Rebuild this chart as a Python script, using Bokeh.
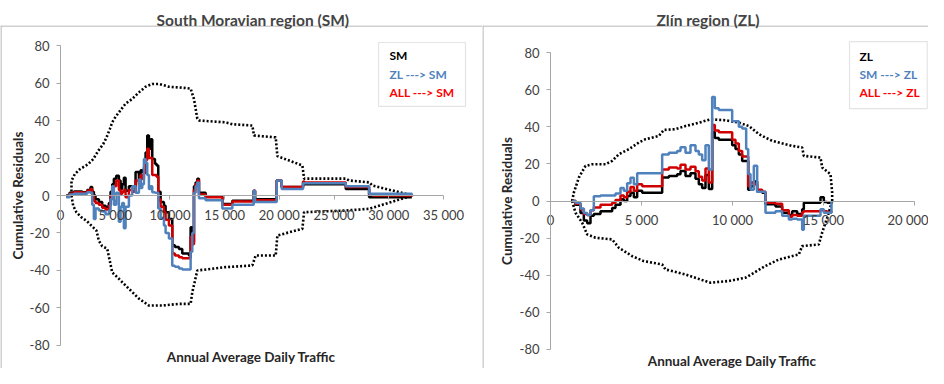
from bokeh.plotting import figure
from bokeh.models import Range1d, FixedTicker, Label, Span, ColumnDataSource, BoxAnnotation
from bokeh.layouts import row
from bokeh.core.properties import value
from bokeh.embed import file_html
from bokeh.resources import INLINE
import math

# ---------------- data: South Moravian region (SM) ----------------
sm_x = [518, 823, 1220, 1982, 2439, 2744, 2897, 3049, 3201, 3506,
        3811, 4116, 4421, 4574, 4726, 4878, 5092, 5336, 5488, 5641,
        5793, 5946, 6250, 6555, 6860, 7165, 7318, 7470, 7623, 7775,
        7927, 8080, 8232, 8385, 8629, 8781, 8934, 9147, 9452, 9604,
        9909, 10214, 10458, 10824, 11129, 11739, 11891, 12044, 12196, 12349,
        12501, 12653, 13263, 14788, 15702, 17654, 17776, 19758, 20215, 22166,
        22288, 26069, 28203, 28508, 32106]
sm_own = [0, 1.5, 2.2, 1.8, 3, 4.5, 2, 0, -2, -3.5,
          -5.5, -6, -4, 2, 6, 9, 10.5, 8, 3.5, 6,
          9.5, 2.5, 5, 2, 12.5, 9, 13.5, 12.5, 15, 23,
          32, 25, 30, 19.5, 17, 16, 2, -3.5, -5.5, -9,
          -12.5, -26.5, -27.5, -28.5, -31, -32, -17, -25, 5, 7,
          9, 1.5, -0.5, -4.5, -2.8, 2.5, -2, 8, 4.5, 7,
          6, 3.5, -1, -1, -1]
sm_from_zl = [-1, 0.5, 1, 1, 1.8, 1.5, -5, -12.5, -7, -8,
              -8.5, -10, -8, -2, 5, -5, 1.5, -14, -6, -4,
              -17.5, -6, 0, 5, 1.5, 8.5, 4, 6, 19.5, 17.5,
              11, 3.5, 5, 1.8, 1.5, 1.5, -7, -12, -16, -20,
              -23, -37.5, -38, -39, -39.5, -39.5, -30, -20, 1.5, 5,
              7, -1.5, -2.5, -7, -5, 2.5, -3.5, 8, 3.5, 6.5,
              6.5, 5, 1, 1, 0]
sm_from_all = [-0.5, 1, 1.8, 1.5, 2.5, 3.5, 0, -3, -4, -5,
               -6.5, -7.5, -5.5, 0, 5, 5, 8, 3, 1, 2,
               3, -1, 3, 2, 8, 6, 11, 9, 12, 19,
               25, 20, 20, 11, 11, 10, -2, -6, -9, -13,
               -16, -31, -32, -33, -33.5, -33.5, -22, -26, 3, 6,
               8, 0.5, -1, -5, -3.2, 2.5, -2.5, 8, 4.5, 7.5,
               7, 4.5, 0.5, 0, -0.5]
sm_up_x = [1000, 1005, 1307, 1764, 2531, 2988, 3445, 3902, 4203, 4505,
           4726, 5031, 5946, 6555, 7165, 7775, 8385, 8995, 9909, 11129,
           11891, 12196, 12501, 12653, 15093, 15702, 17532, 17684, 19666, 19819,
           22105, 22258, 26069, 26374, 28203, 28508, 32167]
sm_up_y = [0, 7.8, 11.4, 14, 16.7, 19.4, 23.8, 27.4, 30.9, 35.4,
           39, 42, 49, 51.5, 55, 58, 59.5, 59.5, 58, 57.5,
           57, 51.5, 41, 40, 39, 38, 37.3, 32, 31, 21,
           16, 9, 9, 8, 7, 5.3, 0]
sm_lo_x = [1000, 1160, 1462, 1919, 2376, 2988, 3290, 3500, 3800, 4270,
           4726, 5336, 5946, 7165, 8080, 9299, 10824, 11891, 12044, 12501,
           15093, 17532, 17837, 19666, 19819, 22105, 22258, 26069, 28203, 32167]
sm_lo_y = [0, -5.5, -9, -11.7, -13.5, -17, -18.8, -24, -27, -28.4,
           -41, -44.4, -48, -55, -58.7, -58.7, -57.8, -57.8, -51.6, -40,
           -38.2, -37.3, -32, -32, -21.3, -17.8, -8.9, -8, -7.1, 0]

# ---------------- data: Zlin region (ZL) ----------------
zl_x = [1190, 1374, 1648, 1832, 2015, 2198, 2381, 2747, 3388, 3571,
        3846, 4029, 4212, 4396, 4579, 4762, 5037, 6136, 6502, 6960,
        7143, 7418, 7692, 7967, 8150, 8333, 8516, 8700, 8883, 9029,
        9249, 9982, 10165, 10348, 10531, 10751, 10861, 10989, 11172, 11355,
        11630, 11813, 12363, 12729, 13095, 13278, 13553, 13828, 13919, 14835,
        15018, 15201, 15440]
zl_own = [0, -2, -6.5, -10.5, -12, -8, -7, -5.5, -3.8, -2,
          0.9, 0, 2.7, 4.5, 2, 5.5, 4.5, 12.6, 13.5, 14.4,
          16.2, 13.5, 15, 12, 9, 7, 14, 6.5, 37, 34,
          33, 30, 28, 25, 21.5, 21.5, 6, 8, 10.5, 5,
          4.5, -1.8, -3, -6.3, -7.5, -5.5, -7, -4.5, -1, 2,
          -0.5, -1, 0]
zl_from_all = [0, -1.5, -4.5, -7, -7.5, -5, -3.5, -2, -0.9, 0.5,
               3, 2, 5, 7.5, 5.5, 9, 8, 17, 18, 17.5,
               19.5, 17, 18.5, 16, 13, 11, 17.5, 10, 41, 38,
               37, 33, 31, 27, 24, 24, 8, 10, 9, 6,
               5, -1, -1.5, -5, -8.5, -7.5, -8, -6, -5.5, -5,
               -5.5, -6, -5.5]
zl_from_sm = [0, -1, -4, -6.5, -7.5, -5, 2.5, 3, 3, 4,
              7, 5.5, 9.5, 12.5, 9, 15, 15, 25, 26, 27,
              29, 26, 30, 27, 25, 22, 30, 17, 56, 50,
              49, 43, 43, 40, 39, 28, 14.5, 6, 19, 5,
              5, -6.3, -5.5, -8, -10, -9.5, -10, -15.5, -8, -4.5,
              -6.3, -6.3, 0]
zl_up_x = [1190, 1282, 1557, 1923, 2289, 3022, 3388, 3755, 4304, 4853,
           5220, 5952, 6227, 6868, 7418, 8150, 8791, 9615, 10348, 10897,
           11447, 12179, 13278, 13828, 13919, 14835, 14927, 15385, 15476, 15476]
zl_up_y = [0, 4.5, 12.6, 18.9, 19.8, 19.8, 21.6, 25.2, 27.9, 31.5,
           33.3, 35, 38.3, 38.7, 40.4, 42.2, 44, 43.5, 42.2, 40.4,
           36, 32.4, 29.7, 28.8, 24.3, 23.4, 18, 14.4, 4.5, 0]
zl_lo_x = [1190, 1374, 1740, 2015, 2473, 3388, 3755, 4487, 5128, 6136,
           6319, 7418, 8333, 8791, 9799, 10714, 11172, 11813, 12546, 13645,
           13828, 14743, 14927, 15110, 15293, 15385, 15476]
zl_lo_y = [0, -6.3, -11.7, -18, -19.8, -20.7, -25.2, -29.7, -32.4, -34.2,
           -36.9, -39.6, -42.6, -44, -43.1, -41.3, -38.7, -35, -31.5, -28.8,
           -24.3, -23.4, -17, -11.7, -6.3, -3, 0]

# ---------------- ticks & labels ----------------
y_ticks = [-80, -60, -40, -20, 0, 20, 40, 60, 80]
y_tick_labels = ["-80", "-60", "-40", "-20", "0", "20", "40", "60", "80"]
sm_x_ticks = [0, 5000, 10000, 15000, 20000, 25000, 30000, 35000]
sm_x_tick_labels = ["0", "5 000", "10 000", "15 000", "20 000", "25 000", "30 000", "35 000"]
zl_x_ticks = [0, 5000, 10000, 15000, 20000]
zl_x_tick_labels = ["0", "5 000", "10 000", "15 000", "20 000"]

sm_legend = ["SM", "ZL ---> SM", "ALL ---> SM"]
zl_legend = ["ZL", "SM ---> ZL", "ALL ---> ZL"]
legend_colors = ["#000000", "#4f81bd", "#ff0000"]

FONT = "Lato"
AXIS_GRAY = "#a6a6a6"
TEXT_GRAY = "#404040"
BLACK = "#000000"
BLUE = "#4f81bd"
RED = "#d00000"

H = 368


def make_panel(title, width, xr, yr, xmax, x_ticks, x_labels,
               own, other, allv, xs, up_x, up_y, lo_x, lo_y,
               leg_names, leg_box, leg_pos, ylab_pos, xlab_pos, title_offset):
    p = figure(width=width, height=H, x_range=Range1d(*xr), y_range=Range1d(*yr),
               output_backend="svg", toolbar_location=None, title=title,
               min_border_left=0, min_border_right=0, min_border_top=25, min_border_bottom=0)
    p.title.text_font = FONT
    p.title.text_font_size = "15.5px"
    p.title.text_font_style = "bold"
    p.title.align = "left"
    p.title.vertical_align = "top"
    p.title.standoff = -10
    p.title.offset = title_offset
    p.outline_line_color = None
    p.grid.visible = False
    p.background_fill_color = "white"
    p.border_fill_color = "white"

    for ax in p.yaxis:
        ax.fixed_location = 0
        ax.bounds = (-80, 80)
        ax.ticker = FixedTicker(ticks=y_ticks)
        ax.major_label_overrides = {t: l for t, l in zip(y_ticks, y_tick_labels)}
    for ax in p.xaxis:
        ax.fixed_location = 0
        ax.bounds = (0, xmax)
        ax.ticker = FixedTicker(ticks=x_ticks)
        ax.major_label_overrides = {t: l for t, l in zip(x_ticks, x_labels)}
    for ax in p.xaxis + p.yaxis:
        ax.axis_line_color = AXIS_GRAY
        ax.major_tick_line_color = AXIS_GRAY
        ax.minor_tick_line_color = None
        ax.major_tick_in = 0
        ax.major_tick_out = 4
        ax.major_label_standoff = 7
        ax.major_label_text_font = FONT
        ax.major_label_text_font_size = "13px"
        ax.major_label_text_color = TEXT_GRAY
        ax.axis_label = None

    # chart-area borders (top and left)
    p.add_layout(Span(location=yr[1] - 0.3, dimension="width", line_color="#c0c0c0", line_width=1.5))
    p.add_layout(Span(location=xr[0] + (xr[1] - xr[0]) * 0.001, dimension="height",
                      line_color="#c0c0c0", line_width=1.5))

    # legend box (under the text)
    p.add_layout(BoxAnnotation(left=leg_box[0], right=leg_box[1], bottom=leg_box[2], top=leg_box[3],
                               fill_color="white", fill_alpha=1.0, line_color=AXIS_GRAY,
                               line_width=1.2, level="underlay"))

    # envelopes
    p.line(up_x, up_y, line_color=BLACK, line_width=2.6, line_dash="2 2")
    p.line(lo_x, lo_y, line_color=BLACK, line_width=2.6, line_dash="2 2")
    # cumulative residual series
    p.step(xs, own, mode="after", line_color=BLACK, line_width=2.5)
    p.step(xs, allv, mode="after", line_color=RED, line_width=2.5)
    p.step(xs, other, mode="after", line_color=BLUE, line_width=2.5)

    # axis titles
    p.add_layout(Label(x=ylab_pos[0], y=ylab_pos[1], text="Cumulative Residuals", angle=math.pi / 2,
                       text_align="center", text_baseline="middle", text_font=FONT,
                       text_font_size="13.5px", text_font_style="bold", text_color="#262626"))
    p.add_layout(Label(x=xlab_pos[0], y=xlab_pos[1], text="Annual Average Daily Traffic",
                       text_align="center", text_baseline="middle", text_font=FONT,
                       text_font_size="13.5px", text_font_style="bold", text_color="#262626"))

    src = ColumnDataSource(dict(x=[leg_pos[0]] * 3, y=leg_pos[1], text=leg_names, color=legend_colors))
    p.text(x="x", y="y", text="text", text_color="color", source=src,
           text_font=value(FONT), text_font_style="bold", text_font_size="12px",
           text_baseline="middle", text_align="left")
    return p


p1 = make_panel("South Moravian region (SM)", 482, (-5483, 38564), (-92.27, 90.67), 35000,
                sm_x_ticks, sm_x_tick_labels, sm_own, sm_from_zl, sm_from_all, sm_x,
                sm_up_x, sm_up_y, sm_lo_x, sm_lo_y, sm_legend,
                (29060, 37010, 47.5, 81.6), (30065, [74.7, 64.5, 54.9]),
                (-3929, 0), (17454, -86.4), 156)
p2 = make_panel("Zlín region (ZL)", 446, (-3736, 20769), (-90.24, 94.55), 20000,
                zl_x_ticks, zl_x_tick_labels, zl_own, zl_from_sm, zl_from_all, zl_x,
                zl_up_x, zl_up_y, zl_lo_x, zl_lo_y, zl_legend,
                (16429, 20700, 49.8, 85.9), (16978, [78.1, 67.9, 58.2]),
                (-2363, 0), (10000, -86.2), 174)

layout = row(p1, p2)
open("out.html", "w").write(file_html(layout, INLINE))
